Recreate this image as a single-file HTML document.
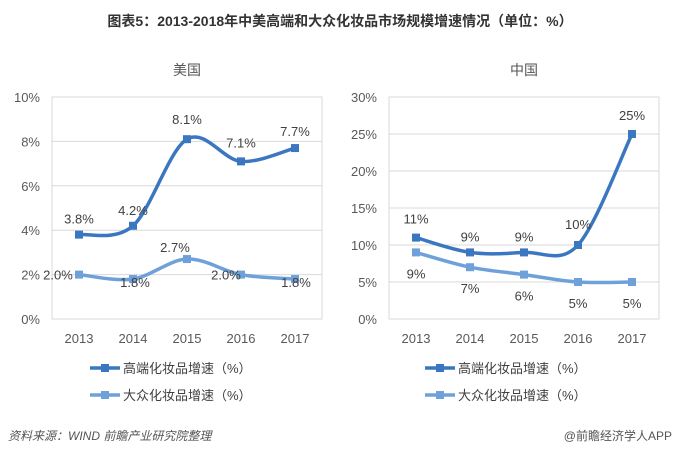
<!DOCTYPE html>
<html><head><meta charset="utf-8"><style>
body{margin:0;background:#fff;width:680px;height:456px;overflow:hidden;font-family:"Liberation Sans","Noto Sans CJK SC",sans-serif;}
svg text{font-family:"Liberation Sans","Noto Sans CJK SC",sans-serif;}
</style></head><body>
<svg id="c" width="680" height="456">
<text x="340" y="26" text-anchor="middle" font-size="14" font-weight="bold" fill="#333">图表5：2013-2018年中美高端和大众化妆品市场规模增速情况（单位：%）</text>
<text x="8" y="440" font-size="12" font-style="italic" fill="#555">资料来源：WIND 前瞻产业研究院整理</text>
<text x="672" y="440" text-anchor="end" font-size="12" fill="#555">@前瞻经济学人APP</text>
</svg>
<script>
const years=["2013","2014","2015","2016","2017"];
const usHigh=[3.8,4.2,8.1,7.1,7.7];
const usMass=[2.0,1.8,2.7,2.0,1.8];
const usHighLabels=["3.8%","4.2%","8.1%","7.1%","7.7%"];
const usMassLabels=["2.0%","1.8%","2.7%","2.0%","1.8%"];
const usTicks=[0,2,4,6,8,10];
const cnHigh=[11,9,9,10,25];
const cnMass=[9,7,6,5,5];
const cnHighLabels=["11%","9%","9%","10%","25%"];
const cnMassLabels=["9%","7%","6%","5%","5%"];
const cnTicks=[0,5,10,15,20,25,30];
const NS="http://www.w3.org/2000/svg";
const svg=document.getElementById('c');
function mk(t,a,p){const e=document.createElementNS(NS,t);for(const k in a)e.setAttribute(k,a[k]);(p||svg).appendChild(e);return e;}
const C1="#3b77c0",C2="#6ea1da";
function smooth(pts){let d="M"+pts[0][0]+","+pts[0][1];for(let i=0;i<pts.length-1;i++){const p0=pts[i-1]||pts[i],p1=pts[i],p2=pts[i+1],p3=pts[i+2]||p2;const t=6;d+=" C"+(p1[0]+(p2[0]-p0[0])/t)+","+(p1[1]+(p2[1]-p0[1])/t)+" "+(p2[0]-(p3[0]-p1[0])/t)+","+(p2[1]-(p3[1]-p1[1])/t)+" "+p2[0]+","+p2[1];}return d;}
function panel(o){
  const g=mk('g',{});
  
  
  const x0=o.x0,x1=o.x0+270,yT=97,yB=319,max=o.ticks[o.ticks.length-1];
  const ys=v=>yB-(v/max)*(yB-yT);
  const xs=i=>o.x0+27+i*54;
  const st=mk('text',{x:(x0+x1)/2,y:75,'text-anchor':'middle','font-size':14,fill:'#555'},g);st.textContent=o.title;
  
  const box=mk('rect',{x:x0,y:yT,width:270,height:yB-yT,fill:'none',stroke:'#d9d9d9'},g);
  
  o.ticks.forEach(t=>{const y=ys(t);
    const l=mk('line',{x1:x0,x2:x1,y1:y,y2:y,stroke:'#d9d9d9'},g);
    
    const tx=mk('text',{x:x0-12,y:y+5,'text-anchor':'end','font-size':13,fill:'#595959'},g);tx.textContent=t+'%';
    });
  years.forEach((yr,i)=>{const tx=mk('text',{x:xs(i),y:343,'text-anchor':'middle','font-size':13,fill:'#595959'},g);tx.textContent=yr;
    });
  o.series.forEach((s,si)=>{
    const pts=s.v.map((v,i)=>[xs(i),ys(v)]);
    const p=mk('path',{d:smooth(pts),fill:'none',stroke:s.c,'stroke-width':3.5},g);
    
    pts.forEach((q,i)=>{const m=mk('rect',{x:q[0]-4,y:q[1]-4,width:8,height:8,fill:s.c},g);
      
      const lb=mk('text',{x:q[0]+(s.dx?s.dx[i]:0),y:q[1]+s.dy[i],'text-anchor':'middle','font-size':13,fill:'#404040'},g);lb.textContent=s.l[i];
      });
    const ly=368+si*27,lx=o.lx;
    const ll=mk('line',{x1:lx,x2:lx+30,y1:ly,y2:ly,stroke:s.c,'stroke-width':3.5},g);
    
    const lm=mk('rect',{x:lx+11,y:ly-4,width:8,height:8,fill:s.c},g);
    
    const lt=mk('text',{x:lx+33,y:ly+5,'font-size':13,fill:'#404040'},g);lt.textContent=s.name;
    
  });
}
panel({name:'us-chart',title:'美国',x0:52,ticks:usTicks,lx:90,series:[
 {v:usHigh,l:usHighLabels,c:C1,dy:[-11,-11,-15,-14,-12],name:'高端化妆品增速（%）'},
 {v:usMass,l:usMassLabels,c:C2,dy:[5,8,-7,5,8],dx:[-21,2,-12,-15,1],name:'大众化妆品增速（%）'}]});
panel({name:'china-chart',title:'中国',x0:389,ticks:cnTicks,lx:425,series:[
 {v:cnHigh,l:cnHighLabels,c:C1,dy:[-14,-11,-11,-16,-14],name:'高端化妆品增速（%）'},
 {v:cnMass,l:cnMassLabels,c:C2,dy:[26,26,26,26,26],name:'大众化妆品增速（%）'}]});
</script>
</body></html>
